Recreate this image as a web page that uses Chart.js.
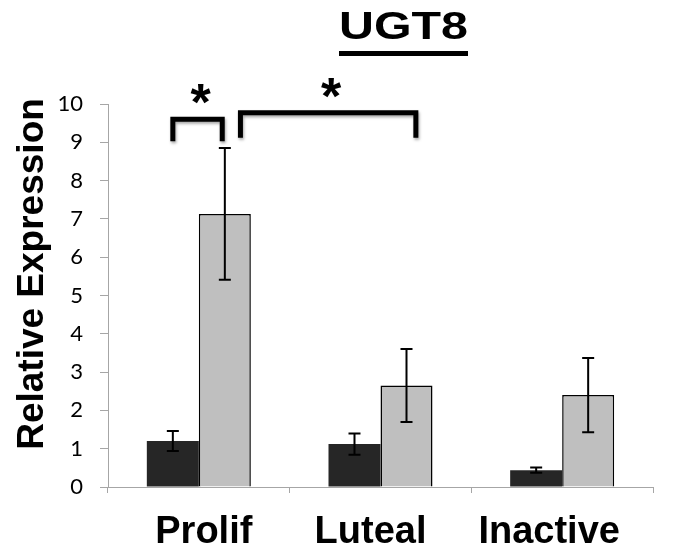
<!DOCTYPE html>
<html>
<head>
<meta charset="utf-8">
<title>UGT8</title>
<script src="https://cdn.jsdelivr.net/npm/chart.js@4.4.1/dist/chart.umd.min.js"></script>
<style>
  html, body { margin: 0; padding: 0; background: #fff; }
  #chart { display: block; }
</style>
</head>
<body>
<canvas id="chart" width="685" height="558"></canvas>
<script>
// expression data (mean and error per phase)
const categories = ['Prolif', 'Luteal', 'Inactive'];
const darkValues = [1.20, 1.12, 0.44];
const darkErrors = [0.26, 0.28, 0.07];
const greyValues = [7.13, 2.65, 2.40];
const greyErrors = [1.72, 0.95, 0.97];
const yMin = 0;
const yMax = 10;
const yStep = 1;

// significance brackets: from [category, series, shift in bar widths] to [...], y of top and leg ends
const bracketFrom = [[0, 0, 0.0], [0, 1, 0.30]];
const bracketTo = [[0, 1, -0.05], [1, 1, 0.18]];
const bracketTop = [9.60, 9.77];
const bracketLeg = [9.03, 9.12];
const bracketMark = ['*', '*'];

const axisGrey = '#a6a6a6';
const boldFont = '"Liberation Sans", Arial, sans-serif';
// category names sit a little off the bar-pair centres
const labelShift = [5, -10, -13];

// whiskers on top of the bars
const errorBars = {
  id: 'errorBars',
  afterDatasetsDraw(chart) {
    const ctx = chart.ctx;
    const y = chart.scales.y;
    const errs = [darkErrors, greyErrors];
    ctx.save();
    ctx.strokeStyle = '#000';
    ctx.lineWidth = 2;
    errs.forEach((list, di) => {
      const meta = chart.getDatasetMeta(di);
      meta.data.forEach((bar, i) => {
        const v = chart.data.datasets[di].data[i];
        const top = y.getPixelForValue(v + list[i]);
        const bot = y.getPixelForValue(v - list[i]);
        const half = 6;
        ctx.beginPath();
        ctx.moveTo(bar.x, top);
        ctx.lineTo(bar.x, bot);
        ctx.moveTo(bar.x - half, top);
        ctx.lineTo(bar.x + half, top);
        ctx.moveTo(bar.x - half, bot);
        ctx.lineTo(bar.x + half, bot);
        ctx.stroke();
      });
    });
    ctx.restore();
  }
};

// brackets with asterisks
const sigBrackets = {
  id: 'sigBrackets',
  afterDraw(chart) {
    const ctx = chart.ctx;
    const y = chart.scales.y;
    const xAt = ([c, s, shift]) => {
      const bar = chart.getDatasetMeta(s).data[c];
      return bar.x + shift * bar.width;
    };
    ctx.save();
    bracketFrom.forEach((from, k) => {
      const x1 = xAt(from);
      const x2 = xAt(bracketTo[k]);
      const yt = y.getPixelForValue(bracketTop[k]);
      const yl = y.getPixelForValue(bracketLeg[k]);
      ctx.shadowColor = 'rgba(0,0,0,0.35)';
      ctx.shadowBlur = 3;
      ctx.shadowOffsetX = 1;
      ctx.shadowOffsetY = 2;
      ctx.strokeStyle = '#000';
      ctx.lineWidth = 5;
      ctx.lineJoin = 'miter';
      ctx.lineCap = 'butt';
      ctx.beginPath();
      ctx.moveTo(x1, yl);
      ctx.lineTo(x1, yt);
      ctx.lineTo(x2, yt);
      ctx.lineTo(x2, yl);
      ctx.stroke();
      ctx.shadowColor = 'transparent';
      ctx.fillStyle = '#000';
      ctx.font = 'bold 52px ' + boldFont;
      ctx.textAlign = 'center';
      ctx.textBaseline = 'alphabetic';
      ctx.fillText(bracketMark[k], (x1 + x2) / 2 + 3, yt + 1);
    });
    ctx.restore();
  }
};

// title with underline, rotated y-axis title and the category names
const labels = {
  id: 'labels',
  afterDraw(chart) {
    const ctx = chart.ctx;
    ctx.save();
    ctx.fillStyle = '#000';
    ctx.font = 'bold 38px ' + boldFont;
    ctx.textAlign = 'center';
    ctx.textBaseline = 'alphabetic';
    const title = 'UGT8';
    const w = ctx.measureText(title).width;
    const lineW = 129;
    ctx.save();
    ctx.translate(403.5, 39);
    ctx.scale(lineW / w, 1);
    ctx.fillText(title, 0, 0);
    ctx.restore();
    ctx.fillRect(403.5 - lineW / 2, 51, lineW, 5);

    ctx.save();
    ctx.translate(43, 274);
    ctx.rotate(-Math.PI / 2);
    ctx.font = 'bold 37px ' + boldFont;
    ctx.fillText('Relative Expression', 0, 0);
    ctx.restore();

    const x = chart.scales.x;
    ctx.font = 'bold 38px ' + boldFont;
    categories.forEach((name, i) => {
      ctx.fillText(name, x.getPixelForValue(i) + labelShift[i], 543);
    });
    ctx.restore();
  }
};

new Chart(document.getElementById('chart'), {
  type: 'bar',
  data: {
    labels: categories,
    datasets: [
      {
        data: darkValues,
        backgroundColor: '#262626',
        borderWidth: 0
      },
      {
        data: greyValues,
        backgroundColor: '#bfbfbf',
        borderColor: '#000',
        borderWidth: 1.5
      }
    ]
  },
  options: {
    responsive: false,
    animation: false,
    categoryPercentage: 0.5725,
    barPercentage: 1.0,
    layout: { padding: { top: 104, right: 32, left: 0, bottom: 0 } },
    plugins: {
      legend: { display: false },
      tooltip: { enabled: false }
    },
    scales: {
      x: {
        grid: { drawOnChartArea: false, offset: true, tickLength: 6, color: axisGrey },
        border: { color: axisGrey, width: 1 },
        ticks: { display: false },
        afterFit(scale) { scale.height = 71; }
      },
      y: {
        min: yMin,
        max: yMax,
        grid: { drawOnChartArea: false, tickLength: 8, color: axisGrey },
        border: { color: axisGrey, width: 1 },
        ticks: {
          stepSize: yStep,
          color: '#000',
          padding: 17,
          font: { family: 'Lato, "Open Sans", sans-serif', size: 22 }
        },
        afterFit(scale) { scale.width = 108; }
      }
    }
  },
  plugins: [errorBars, sigBrackets, labels]
});
</script>
</body>
</html>
